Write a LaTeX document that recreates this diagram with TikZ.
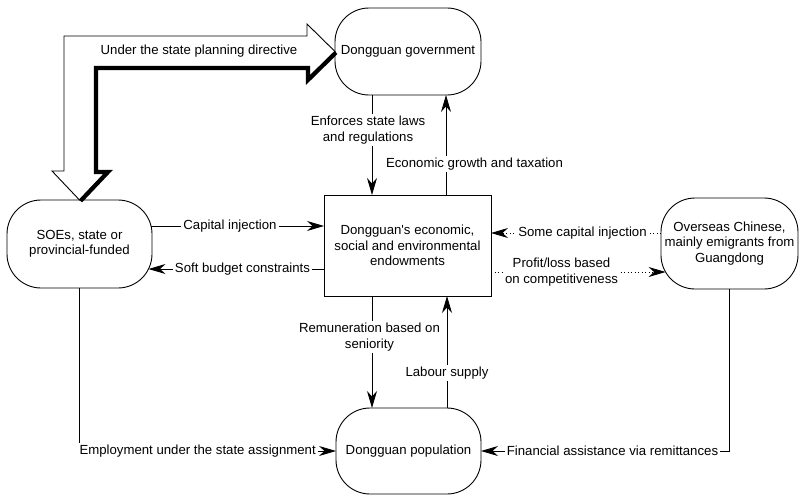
\documentclass[tikz,border=0pt]{standalone}
\usepackage{fontspec}
\setmainfont{Liberation Sans}
\usetikzlibrary{arrows.meta,calc}
\begin{document}
\begin{tikzpicture}[x=1pt,y=-1pt,
  font=\fontsize{13.2}{15.5}\selectfont,
  every node/.style={inner sep=0pt, outer sep=0pt},
  blob/.style={draw, line width=0.9pt, rounded corners=34pt, align=center},
  sq/.style={draw, line width=0.9pt, align=center},
  lbl/.style={fill=white, align=center, inner sep=2pt},
  con/.style={line width=0.9pt, -{Stealth[length=17pt,width=10pt,inset=5.5pt]}},
  dcon/.style={con, dash pattern=on 0.9pt off 2.6pt},
  bigarrow/.style={line width=0.9pt, fill=white, line join=miter},
  shadow/.style={line width=4.2pt, line join=miter, transform canvas={shift={(1,1)}}}]
\useasboundingbox (0,0) rectangle (803,495);

% nodes
\node[blob, minimum width=146pt, minimum height=87pt] (gov) at (408,51.5) {Dongguan government};
\node[blob, minimum width=145pt, minimum height=88pt] (soe) at (79.5,244) {SOEs, state or\\provincial-funded};
\node[sq, minimum width=167pt, minimum height=101pt] (ctr) at (407.5,245.5) {Dongguan\textquotesingle s economic,\\social and environmental\\endowments};
\node[blob, minimum width=137pt, minimum height=91pt] (ovs) at (729.5,243.5) {Overseas Chinese,\\mainly emigrants from\\Guangdong};
\node[blob, minimum width=145pt, minimum height=86pt] (pop) at (408.5,451) {Dongguan population};

% big hollow arrow
\coordinate (t1) at (gov.west);
\coordinate (t2) at (soe.north);
\coordinate (a1) at ($(t2)+(-27.5,-29)$);
\coordinate (a2) at ($(t2)+(-15.5,-29)$);
\coordinate (b1) at ($(t1)+(-28,-15.5)$);
\coordinate (b2) at ($(t1)+(-28,-27.5)$);
\coordinate (b3) at ($(t1)+(-28,27.5)$);
\coordinate (b4) at ($(t1)+(-28,15.5)$);
\coordinate (a5) at ($(t2)+(15.5,-29)$);
\coordinate (a6) at ($(t2)+(27.5,-29)$);
\coordinate (a3) at (a2 |- b1);
\coordinate (a4) at (a5 |- b4);
\draw[bigarrow] (t2) -- (a1) -- (a2) -- (a3) -- (b1) -- (b2) -- (t1) -- (b3) -- (b4) -- (a4) -- (a5) -- (a6) -- cycle;
\draw[shadow] (t1) -- (b3) -- (b4) -- (a4) -- (a5) -- (a6) -- (t2);
\node (dir) at (199,51) {Under the state planning directive};

% government <-> centre
\draw[con] (372,0 |- gov.south) -- (372,0 |- ctr.north);
\node[lbl] (l1) at (368,130) {Enforces state laws\\and regulations};
\draw[con] (446,0 |- ctr.north) -- (446,0 |- gov.south);
\node[lbl] (l2) at (474.5,164) {Economic growth and taxation};

% SOEs <-> centre
\draw[con] ($(soe.east)+(-1,-18)$) -- (ctr.west |- 0,226);
\node[lbl] (l3) at (230,226) {Capital injection};
\draw[con] (ctr.west |- 0,269) -- ($(soe.east)+(-3.5,25)$);
\node[lbl] (l4) at (242.5,269) {Soft budget constraints};

% overseas <-> centre
\draw[dcon] (ovs.west |- 0,233) -- (ctr.east |- 0,233);
\node[lbl] (l5) at (582.5,233) {Some capital injection};
\draw[dcon] (ctr.east |- 0,272) -- ($(ovs.west)+(4.6,28.5)$);
\node[lbl] (l6) at (561.5,272) {Profit/loss based\\on competitiveness};

% centre <-> population
\draw[con] (372,0 |- ctr.south) -- (372,0 |- pop.north);
\node[lbl] (l7) at (369.5,337) {Remuneration based on\\seniority};
\draw[con] (447,0 |- pop.north) -- (447,0 |- ctr.south);
\node[lbl] (l8) at (447,373) {Labour supply};

% SOEs / overseas -> population
\draw[con] (soe.south) |- (pop.west);
\node[lbl, anchor=west] (l9) at ($(soe.south |- pop.west)+(-2,0)$) {Employment under the state assignment};
\draw[con] (ovs.south) |- (pop.east);
\node[lbl] (l10) at (612.5,451) {Financial assistance via remittances};
\end{tikzpicture}
\end{document}
